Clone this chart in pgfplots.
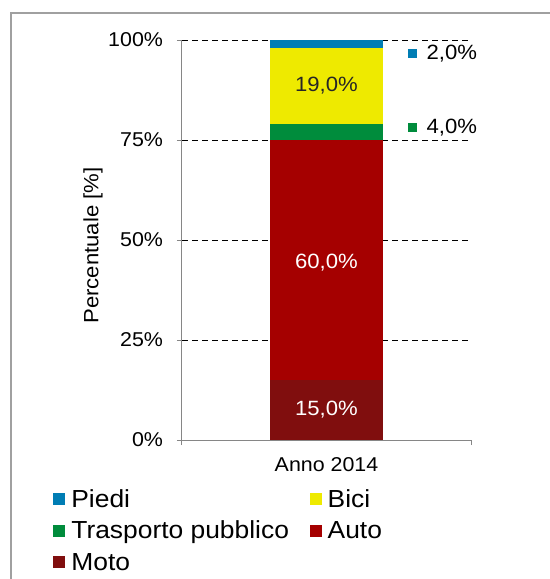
\documentclass[border=0pt]{standalone}
\usepackage{pgfplots}
\pgfplotsset{compat=1.18}
\usepackage{fontspec}
\setmainfont[FakeStretch=1.07]{Liberation Sans}
\definecolor{piedi}{RGB}{0,125,180}
\definecolor{bici}{RGB}{238,234,0}
\definecolor{tp}{RGB}{0,140,60}
\definecolor{auto}{RGB}{165,0,0}
\definecolor{moto}{RGB}{128,14,14}
\definecolor{axisgray}{RGB}{134,134,134}
\definecolor{framegray}{RGB}{160,160,160}
\newcommand{\pct}{\pgfmathprintnumber[fixed,fixed zerofill,precision=1,use comma]{\pgfplotspointmeta}\%}
\begin{document}
\begin{tikzpicture}
\useasboundingbox (0,0) rectangle (412.5pt,-434.25pt);
\draw[framegray, line width=1.5pt] (8.6pt,-440pt) -- (8.6pt,-9.75pt) -- (420pt,-9.75pt);
\begin{axis}[
  at={(136.5pt,-330pt)}, anchor=south west,
  scale only axis, width=216.75pt, height=300pt,
  ybar stacked, bar width=84.75pt,
  xmin=-0.5, xmax=0.5, ymin=0, ymax=100,
  axis x line*=bottom, axis y line*=left,
  axis line style={draw=axisgray, line width=0.75pt},
  tick align=outside, major tick length=3.75pt,
  xtick={0}, xticklabels={Anno 2014},
  xtick style={draw=none},
  xticklabel style={yshift=-6pt},
  extra x ticks={-0.5,0.5}, extra x tick labels={},
  extra x tick style={xtick style={draw=axisgray, line width=0.75pt}},
  ytick={0,25,50,75,100},
  yticklabel={\pgfmathprintnumber{\tick}\%},
  yticklabel style={xshift=-7pt},
  ytick style={draw=axisgray, line width=0.75pt},
  ymajorgrids, grid style={black, line width=0.75pt, dash pattern=on 4.5pt off 3pt},
  /pgf/number format/assume math mode=true,
  tick label style={font=\fontsize{15}{18}\selectfont},
  ylabel={Percentuale [\%]},
  ylabel style={font=\fontsize{15.5}{18}\selectfont, at={(axis description cs:-0.308,0.486)}, anchor=center, rotate=0},
  nodes near coords={\pct},
  every node near coord/.style={font=\fontsize{15.5}{18}\selectfont, anchor=center, inner sep=0pt},
  reverse legend,
  legend columns=2,
  legend cell align=left,
  legend image code/.code={\fill[#1] (0pt,-3.4pt) rectangle (9pt,5.6pt);},
  legend style={at={(axis description cs:-0.446,-0.114)}, anchor=north west, draw=none, fill=none,
    inner sep=0pt, font=\fontsize{18.5}{22}\selectfont, row sep=1.6pt,
    nodes={inner sep=2pt, text height=14pt, text depth=4pt},
    /tikz/every odd column/.append style={column sep=2.5pt},
    /tikz/every even column/.append style={column sep=13.5pt}},
]
\addplot[fill=moto, draw=none, every node near coord/.append style={white}] coordinates {(0,15)};
\addlegendentry{Moto}
\addplot[fill=auto, draw=none, every node near coord/.append style={white, yshift=-2pt}] coordinates {(0,60)};
\addlegendentry{Auto}
\addplot[fill=tp, draw=none, nodes near coords={\textcolor{tp}{\raisebox{1.5pt}{\rule{6.75pt}{6.75pt}}}\hspace{7pt}\pct},
  every node near coord/.append style={anchor=west, xshift=61.1pt, yshift=3pt}] coordinates {(0,4)};
\addlegendentry{Trasporto pubblico}
\addplot[fill=bici, draw=none, every node near coord/.append style={black!85}] coordinates {(0,19)};
\addlegendentry{Bici}
\addplot[fill=piedi, draw=none, nodes near coords={\textcolor{piedi}{\raisebox{1.5pt}{\rule{6.75pt}{6.75pt}}}\hspace{7pt}\pct},
  every node near coord/.append style={anchor=west, xshift=61.1pt, yshift=-7.5pt}] coordinates {(0,2)};
\addlegendentry{Piedi}
\end{axis}
\end{tikzpicture}
\end{document}
